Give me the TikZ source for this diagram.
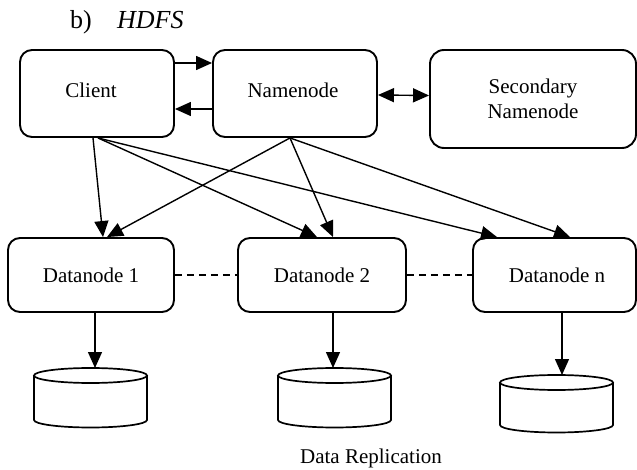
\documentclass[tikz,border=0pt]{standalone}
\usepackage{fontspec}
\setmainfont{Liberation Serif}
\usetikzlibrary{arrows.meta}
\newcommand\dbcyl[4]{%
  \draw[cylline] (#1,#2) ellipse[x radius=#4,y radius=7.5];
  \draw[cylline] (#1-#4,#2) -- (#1-#4,#3) arc[start angle=180,end angle=0,x radius=#4,y radius=7.5] -- (#1+#4,#2);}
\begin{document}
\begin{tikzpicture}[x=1pt,y=-1pt,
  txt/.style={font=\fontsize{21}{25}\selectfont},
  ttl/.style={font=\fontsize{26}{31}\selectfont},
  box/.style={txt,draw,line width=1.9pt,rounded corners=12pt,inner sep=0pt,align=center},
  arr/.style={line width=1.4pt,-{Triangle[length=16pt,width=14pt]}},
  dblarr/.style={line width=1.4pt,{Triangle[length=16pt,width=14pt]}-{Triangle[length=16pt,width=14pt]}},
  dashline/.style={line width=1.4pt,dash pattern=on 7pt off 5pt},
  cylline/.style={line width=1.7pt}]
\useasboundingbox (0,0) rectangle (637,470);

\node[ttl,anchor=base west,inner sep=0pt] (lb) at (70,29) {b)};
\node[ttl,anchor=base west,inner sep=0pt] (lh) at (117,29) {\textit{HDFS}};

\node[box,minimum width=154pt,minimum height=87pt,text depth=7pt] (client) at (97,93.5) {\hspace*{-12pt}Client};
\node[box,minimum width=164pt,minimum height=87pt,text depth=7pt] (name) at (295,93.5) {\hspace*{-4pt}Namenode};
\node[box,rounded corners=14pt,minimum width=206pt,minimum height=98pt] (sec) at (533,99) {Secondary\\Namenode};

\node[box,minimum width=166pt,minimum height=74pt] (dn1) at (91,275) {Datanode 1};
\node[box,minimum width=168pt,minimum height=74pt] (dn2) at (322,275) {Datanode 2};
\node[box,minimum width=163pt,minimum height=74pt] (dnn) at (554.5,275) {\hspace*{5pt}Datanode n};

\draw[arr] ([yshift=30.5pt]client.east) -- ([yshift=30.5pt]name.west);
\draw[arr] ([yshift=-15.5pt]name.west) -- ([yshift=-15.5pt]client.east);
\draw[dblarr] ([yshift=-1.5pt]name.east) -- ([yshift=3.5pt]sec.west);

\draw[arr] ([xshift=-4pt]client.south) -- ([xshift=12pt]dn1.north);
\draw[arr] ([xshift=1pt]client.south) -- ([xshift=-5pt]dn2.north);
\draw[arr] ([xshift=1pt]client.south) -- ([xshift=-57.5pt]dnn.north);
\draw[arr] ([xshift=-5pt]name.south) -- ([xshift=16pt]dn1.north);
\draw[arr] ([xshift=-5pt]name.south) -- ([xshift=11pt]dn2.north);
\draw[arr] ([xshift=-5pt]name.south) -- ([xshift=15.5pt]dnn.north);

\draw[dashline] (dn1.east) -- (dn2.west);
\draw[dashline] (dn2.east) -- (dnn.west);

\coordinate (c1) at (95,368);
\coordinate (c2) at (333,368);
\coordinate (c3) at (562,375);
\draw[arr] (dn1.south -| c1) -- (c1);
\draw[arr] (dn2.south -| c2) -- (c2);
\draw[arr] (dnn.south -| c3) -- (c3);

\dbcyl{90.5}{375.5}{420}{56.5}
\dbcyl{334.5}{375.5}{420}{56.5}
\dbcyl{556.5}{382.5}{425}{56.5}

\node[txt,anchor=base,inner sep=0pt] (cap) at (371,463) {Data Replication};
\end{tikzpicture}
\end{document}
